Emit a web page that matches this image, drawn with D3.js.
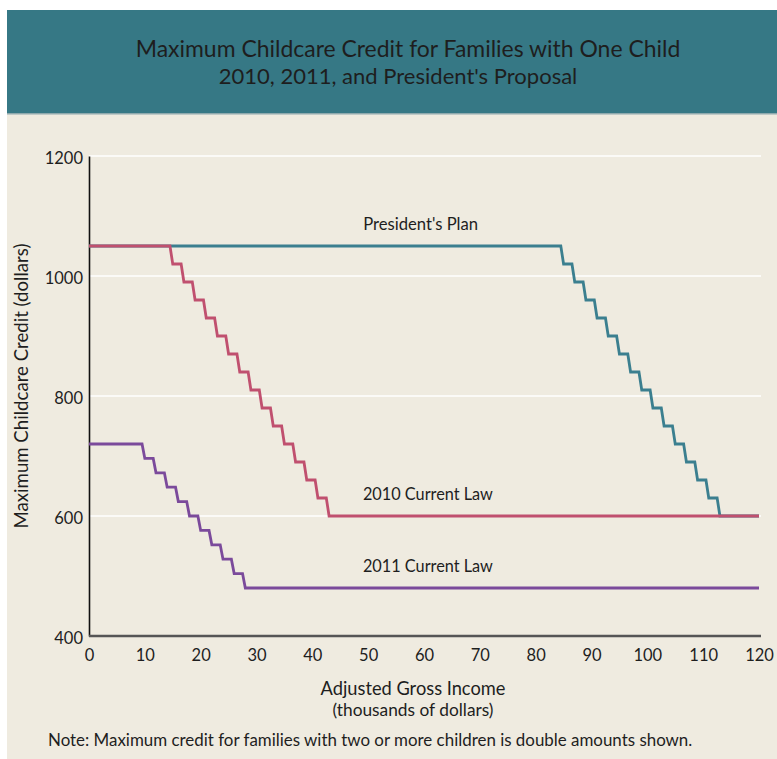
<!DOCTYPE html>
<html>
<head>
<meta charset="utf-8">
<script src="https://cdn.jsdelivr.net/npm/d3@7"></script>
<style>
  html, body { margin: 0; padding: 0; background: #ffffff; }
  svg { display: block; }
  text { font-family: Lato, "Open Sans", sans-serif; fill: #1e1e1e; }
</style>
</head>
<body>
<svg id="chart" width="777" height="759"></svg>
<script>
// Income thresholds (thousands of dollars) where the credit rate drops one point,
// and the credit level that applies after each threshold.
const planBreaks    = [85, 87, 89, 91, 93, 95, 97, 99, 101, 103, 105, 107, 109, 111, 113];
const planCredits   = [1050, 1020, 990, 960, 930, 900, 870, 840, 810, 780, 750, 720, 690, 660, 630, 600];

const law2010Breaks  = [15, 17, 19, 21, 23, 25, 27, 29, 31, 33, 35, 37, 39, 41, 43];
const law2010Credits = [1050, 1020, 990, 960, 930, 900, 870, 840, 810, 780, 750, 720, 690, 660, 630, 600];

const law2011Breaks  = [10, 12, 14, 16, 18, 20, 22, 24, 26, 28];
const law2011Credits = [720, 696, 672, 648, 624, 600, 576, 552, 528, 504, 480];

const seriesNames = ["President's Plan", "2010 Current Law", "2011 Current Law"];
const xTicks = [0, 10, 20, 30, 40, 50, 60, 70, 80, 90, 100, 110, 120];
const yTicks = [400, 600, 800, 1000, 1200];

const svg = d3.select("#chart");
const W = 777, H = 759;

// scale a text's font size so that it spans the given width
function fitWidth(sel, width) {
  sel.each(function () {
    const fs = parseFloat(this.style.fontSize) || 14;
    const len = this.getComputedTextLength();
    if (len > 0) this.style.fontSize = (fs * width / len) + "px";
  });
  return sel;
}

// page background and header band
svg.append("rect").attr("x", 7).attr("y", 0).attr("width", 770).attr("height", H).attr("fill", "#efebe0");
svg.append("rect").attr("x", 0).attr("y", 0).attr("width", W).attr("height", 10).attr("fill", "#ffffff");
svg.append("rect").attr("x", 7).attr("y", 10).attr("width", 770).attr("height", 103).attr("fill", "#367885");
svg.append("rect").attr("x", 7).attr("y", 113).attr("width", 770).attr("height", 1.5).attr("fill", "#8fa9ad");

fitWidth(svg.append("text").attr("x", 408).attr("y", 57).attr("text-anchor", "middle")
  .style("font-size", "20px").text("Maximum Childcare Credit for Families with One Child"), 545);
fitWidth(svg.append("text").attr("x", 398).attr("y", 84).attr("text-anchor", "middle")
  .style("font-size", "18px").text("2010, 2011, and President's Proposal"), 359);

const x = d3.scaleLinear().domain([0, 120]).range([89, 759]);
const y = d3.scaleLinear().domain([400, 1200]).range([636, 156]);

// gridlines
svg.append("g").selectAll("line").data(yTicks.filter(d => d > 400)).join("line")
  .attr("x1", x(0)).attr("x2", 761)
  .attr("y1", d => y(d)).attr("y2", d => y(d))
  .attr("stroke", "#ffffff").attr("stroke-width", 1.6);

// axes
const yAxis = svg.append("g").attr("transform", `translate(${x(0)},0)`)
  .call(d3.axisLeft(y).tickValues(yTicks).tickFormat(d3.format("d")).tickSize(0).tickPadding(6));
yAxis.select(".domain").attr("stroke", "#111").attr("stroke-width", 1.6);
yAxis.selectAll("text").style("font-size", "16.5px").attr("dy", "0.45em").attr("fill", "#1e1e1e");

const xAxis = svg.append("g").attr("transform", `translate(0,${y(400)})`)
  .call(d3.axisBottom(x).tickValues(xTicks).tickSize(0).tickPadding(13));
xAxis.select(".domain").attr("d", `M${x(0)},0H761`).attr("stroke", "#555").attr("stroke-width", 2.4);
xAxis.selectAll("text").style("font-size", "16.5px").attr("fill", "#1e1e1e");

// step lines: each drop is drawn with a short slanted riser ending at the threshold
const riser = 0.5;
function stepPoints(breaks, credits) {
  const pts = [[0, credits[0]]];
  breaks.forEach((b, i) => {
    pts.push([b - riser, credits[i]]);
    pts.push([b, credits[i + 1]]);
  });
  pts.push([120, credits[credits.length - 1]]);
  return pts;
}
const line = d3.line().x(d => x(d[0])).y(d => y(d[1]));

const series = [
  { name: seriesNames[2], pts: stepPoints(law2011Breaks, law2011Credits), color: "#7b4a9b" },
  { name: seriesNames[0], pts: stepPoints(planBreaks, planCredits), color: "#3b7f8f" },
  { name: seriesNames[1], pts: stepPoints(law2010Breaks, law2010Credits), color: "#c0506f" }
];
svg.append("g").selectAll("path").data(series).join("path")
  .attr("d", d => line(d.pts))
  .attr("fill", "none").attr("stroke", d => d.color)
  .attr("stroke-width", 2.8).attr("stroke-linejoin", "miter");

// series labels
const labels = [
  { text: seriesNames[0], x: 59.4, y: planCredits[0], w: 115 },
  { text: seriesNames[1], x: 60.7, y: law2010Credits[law2010Credits.length - 1], w: 130 },
  { text: seriesNames[2], x: 60.7, y: law2011Credits[law2011Credits.length - 1], w: 130 }
];
svg.append("g").selectAll("text").data(labels).join("text")
  .attr("x", d => x(d.x)).attr("y", d => y(d.y) - 16)
  .attr("text-anchor", "middle").style("font-size", "15px").text(d => d.text)
  .each(function (d) { fitWidth(d3.select(this), d.w); });

// axis titles and note
fitWidth(svg.append("text").attr("transform", `translate(28,386) rotate(-90)`)
  .attr("text-anchor", "middle").style("font-size", "16px")
  .text("Maximum Childcare Credit (dollars)"), 285);
fitWidth(svg.append("text").attr("x", 413).attr("y", 695).attr("text-anchor", "middle")
  .style("font-size", "17px").text("Adjusted Gross Income"), 185);
fitWidth(svg.append("text").attr("x", 413).attr("y", 716).attr("text-anchor", "middle")
  .style("font-size", "15px").text("(thousands of dollars)"), 161);
fitWidth(svg.append("text").attr("x", 48).attr("y", 746)
  .style("font-size", "15px").text("Note: Maximum credit for families with two or more children is double amounts shown."), 645);
</script>
</body>
</html>
